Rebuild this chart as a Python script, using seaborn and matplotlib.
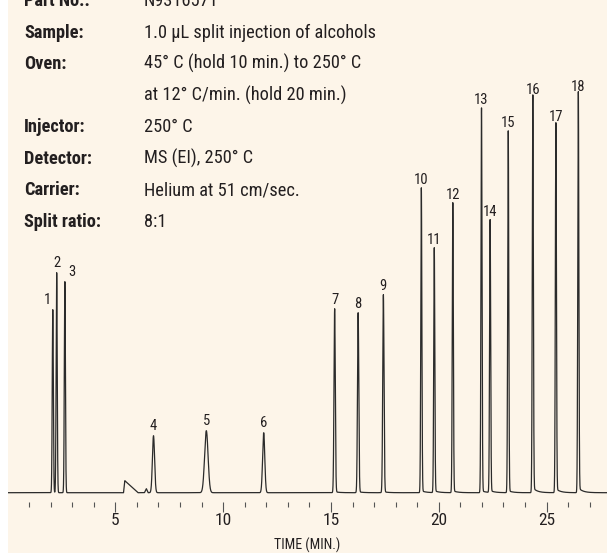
import numpy as np
import pandas as pd
import matplotlib
matplotlib.use("Agg")
import matplotlib.pyplot as plt
import seaborn as sns
from matplotlib import font_manager
from matplotlib.patches import Rectangle
from matplotlib.ticker import FixedLocator

# Peak table (time in min, height in px above baseline)
peak_ids = [str(i) for i in range(1, 19)]
peak_times = [2.10, 2.28, 2.66, 6.77, 9.22, 11.88, 15.17, 16.26, 17.43,
              19.19, 19.79, 20.65, 21.98, 22.38, 23.22, 24.36, 25.43, 26.47]
peak_heights = [183, 220, 211, 57, 62, 60, 183, 179, 197,
                303, 243, 288, 383, 271, 360, 393, 366, 396]
peak_sigmas = [0.025, 0.025, 0.025, 0.05, 0.08, 0.05, 0.03, 0.03, 0.03,
               0.025, 0.025, 0.025, 0.025, 0.025, 0.025, 0.025, 0.025, 0.025]
peak_tails = [0, 0, 0, 0, 0, 0, 1, 1, 1, 2, 2, 2, 2, 2, 2, 5, 4, 5]
label_dx = [-5, 0, 7, 0, 0, 0, 0, 0, 0, 0, 0, 0, 0, 0, 0, 0, 0, 0]

# solvent disturbance near 5.4 min and a small blip at 6.4 min
hump_times = [5.38, 5.44, 6.05, 6.35, 6.44, 6.52]
hump_heights = [0, 12, 0, 0, 4, 0]

conditions = [
    ("Part No.:", "N9316571"),
    ("Sample:", "1.0 µL split injection of alcohols"),
    ("Oven:", "45° C (hold 10 min.) to 250° C"),
    ("", "at 12° C/min. (hold 20 min.)"),
    ("Injector:", "250° C"),
    ("Detector:", "MS (EI), 250° C"),
    ("Carrier:", "Helium at 51 cm/sec."),
    ("Split ratio:", "8:1"),
]

major_ticks = [5, 10, 15, 20, 25]
minor_ticks = [m for m in range(1, 28) if m % 5 != 0]

# build the detector trace from the peak table
t = np.linspace(0.02, 27.8, 30000)
signal = np.interp(t, hump_times, hump_heights)
for t0, h, s, a in zip(peak_times, peak_heights, peak_sigmas, peak_tails):
    signal += h * np.exp(-0.5 * ((t - t0) / s) ** 2)
    signal += np.where(t > t0, a * np.exp(-(t - t0) / 0.2), 0)
trace = pd.DataFrame({"time": t, "signal": signal})

sns.set_style("white")
names = {f.name for f in font_manager.fontManager.ttflist}
narrow = "DejaVu Sans"
for fam in ["Liberation Sans Narrow", "Roboto Condensed", "Open Sans Condensed",
            "DejaVu Sans Condensed", "Liberation Sans"]:
    if fam in names:
        narrow = fam
        break
plt.rcParams["font.family"] = [narrow, "DejaVu Sans"]

ink = "#231f20"
cream = "#fdf5e9"
W, H = 607, 555

fig = plt.figure(figsize=(6.07, 5.55), dpi=100, facecolor="white")
fig.patches.append(Rectangle((8 / W, 2 / H), 1 - 8 / W, 1 - 2 / H,
                             transform=fig.transFigure, facecolor=cream,
                             edgecolor="none", zorder=-10))

ax = fig.add_axes([7.5 / W, 53 / H, 599.5 / W, 502 / H])
ax.set_zorder(5)
ax.patch.set_alpha(0)
sns.lineplot(data=trace, x="time", y="signal", ax=ax, color="#2b2b2b",
             linewidth=0.9, estimator=None, sort=False)
ax.set_xlim(0, 27.8)
ax.set_ylim(-9.3, 492.7)
for sp in ax.spines.values():
    sp.set_visible(False)
ax.set_yticks([])
ax.set_ylabel("")
ax.xaxis.set_major_locator(FixedLocator(major_ticks))
ax.xaxis.set_minor_locator(FixedLocator(minor_ticks))
ax.set_xticklabels([str(v) for v in major_ticks])
ax.tick_params(axis="x", which="major", direction="out", length=7.2, width=0.8,
               color="#555555", pad=1, labelsize=12.5, labelcolor=ink, bottom=True)
ax.tick_params(axis="x", which="minor", direction="out", length=3.6, width=0.8,
               color="#555555", bottom=True)
ax.set_xlabel("TIME (MIN.)", fontsize=10, color=ink)
ax.xaxis.set_label_coords(0.5, -(545 - 502) / 502)
ax.xaxis.label.set_va("center")

for pid, t0, h, dx in zip(peak_ids, peak_times, peak_heights, label_dx):
    ax.annotate(pid, xy=(t0, h), xytext=(dx, 10), textcoords="offset pixels",
                ha="center", va="center", fontsize=10.5, color=ink)

baselines = [6, 37.7, 69.2, 100.7, 132.2, 163.7, 195.2, 226.7]
for (lab, val), yb in zip(conditions, baselines):
    fig.text(24 / W, 1 - yb / H, lab, fontsize=13.2, fontweight="bold",
             color=ink, va="baseline", ha="left")
    fig.text(144 / W, 1 - yb / H, val, fontsize=13.2, color=ink,
             va="baseline", ha="left")

fig.savefig("out.png", dpi=100, facecolor="white")
